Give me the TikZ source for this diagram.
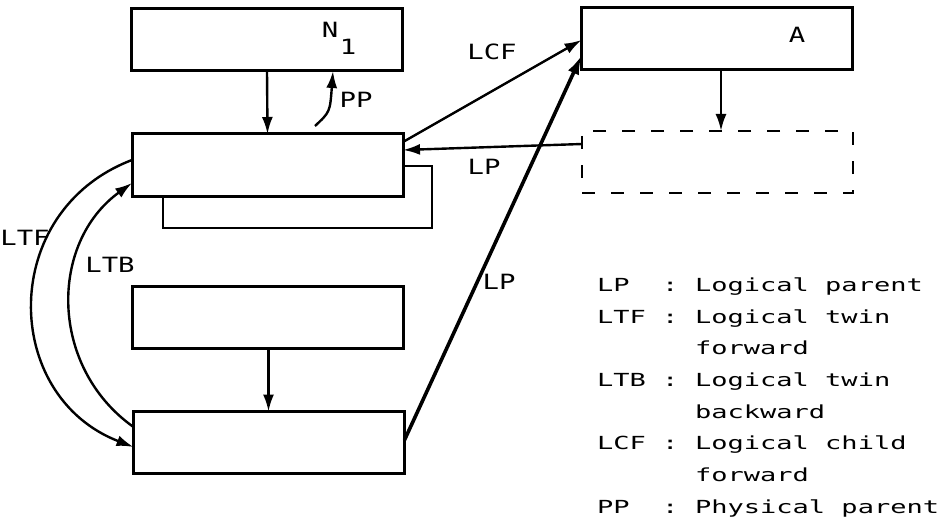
\documentclass[tikz,border=0pt]{standalone}
\usepackage{fontspec}
\usetikzlibrary{arrows.meta}
\newfontfamily\labfont[FakeStretch=1.3]{DejaVu Sans Mono}
\newfontfamily\legfont[FakeStretch=1.5]{DejaVu Sans Mono}
\tikzset{
  box/.style={draw, line width=3pt, minimum width=271pt, minimum height=62pt, inner sep=0pt, outer sep=0pt},
  dbox/.style={box, line width=2.6pt, dash pattern=on 13pt off 16pt},
  conn/.style={line width=2.4pt, -{Latex[length=17pt,width=11pt]}},
  thickconn/.style={line width=3.6pt, -{Latex[length=19pt,width=12pt]}},
  plain/.style={line width=2.6pt},
  lab/.style={inner sep=0pt, font=\labfont\fontsize{21}{21}\selectfont},
  leg/.style={inner sep=0pt, anchor=base west, font=\legfont\fontsize{18}{18}\selectfont},
}
\begin{document}
\begin{tikzpicture}[x=1pt, y=-1pt]
\useasboundingbox (0,0) rectangle (942,524);
% boxes
\node[box] (n1) at (267,40) {};
\node[box] (b2) at (267.5,165) {};
\node[box] (b3) at (268,317.5) {};
\node[box] (b4) at (269,442.5) {};
\node[box] (a) at (717,38.5) {};
\node[dbox] (d) at (717.5,162) {};
% box texts
\node[lab] (tN) at (330,30) {N};
\node[lab] (t1) at (348,47) {1};
\node[lab] (tA) at (797,35) {A};
% vertical arrows
\draw[conn] (n1.south) -- (b2.north);
\draw[conn] ([xshift=0.5pt]b3.south) -- ([xshift=-0.5pt]b4.north);
\draw[conn] ([xshift=4pt]a.south) -- ([xshift=3.5pt]d.north);
% PP
\draw[conn] ([xshift=47.5pt,yshift=8pt]b2.north) .. controls (330,112) .. ([xshift=66pt]n1.south);
\node[lab] (lPP) at (356,100) {PP};
% loop
\draw[plain] ([yshift=-1pt]b2.east) -- ++(29,0) -- ++(0,62) -| ([xshift=-104.5pt]b2.south);
% LCF
\draw[conn] ([yshift=23pt]b2.east) -- ([yshift=-1.5pt]a.west);
\node[lab] (lLCF) at (492,52) {LCF};
% LP short
\draw[conn] ([yshift=18pt]d.west) -- ([yshift=15pt]b2.east);
\node[lab] (lLP1) at (484,167) {LP};
% LP long
\draw[thickconn] ([yshift=2.5pt]b4.east) -- ([yshift=-17pt]a.west);
\node[lab] (lLP2) at (499,282) {LP};
% LTF
\draw[conn] ([yshift=5pt]b2.west) .. controls (-2,211) and (1,396) .. ([yshift=-4.5pt]b4.west);
\node[lab] (lLTF) at (25,238) {LTF};
% LTB
\draw[conn] ([yshift=15.5pt]b4.west) .. controls (49,367) and (49,243) .. ([yshift=-18pt]b2.west);
\node[lab] (lLTB) at (110,265) {LTB};
% legend
\node[leg] (k1) at (597,291) {LP};
\node[leg] (c1) at (662,291) {:};
\node[leg] (v1) at (695,291) {Logical parent};
\node[leg] (k2) at (597,323) {LTF};
\node[leg] (c2) at (662,323) {:};
\node[leg] (v2) at (695,323) {Logical twin};
\node[leg] (v2b) at (695,354) {forward};
\node[leg] (k3) at (597,386) {LTB};
\node[leg] (c3) at (662,386) {:};
\node[leg] (v3) at (695,386) {Logical twin};
\node[leg] (v3b) at (695,418) {backward};
\node[leg] (k4) at (597,449) {LCF};
\node[leg] (c4) at (662,449) {:};
\node[leg] (v4) at (695,449) {Logical child};
\node[leg] (v4b) at (695,481) {forward};
\node[leg] (k5) at (597,513) {PP};
\node[leg] (c5) at (662,513) {:};
\node[leg] (v5) at (695,513) {Physical parent};
\end{tikzpicture}
\end{document}
